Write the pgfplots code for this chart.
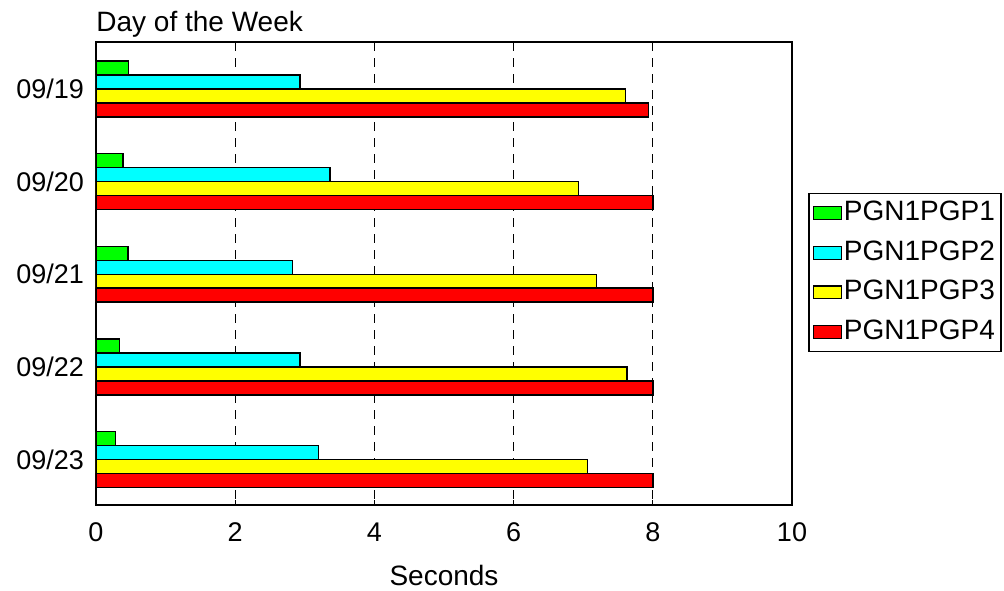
\documentclass[border=0pt]{standalone}
\usepackage{fontspec}
\setmainfont{Liberation Sans}
\usepackage{pgfplots}
\pgfplotsset{compat=1.18}
\newcommand{\cf}{\fontsize{14}{16.8}\selectfont}
\newcommand{\tf}{\fontsize{13.5}{16.2}\selectfont}
\begin{document}
\begin{tikzpicture}[x=1pt,y=1pt]
\useasboundingbox (-48,-42.5) rectangle (454,252.5);
\begin{axis}[
  at={(0,0)}, anchor=south west,
  scale only axis, width=348pt, height=231.5pt,
  xbar, bar width=0.151,
  y dir=reverse,
  xmin=0, xmax=10, ymin=-0.508, ymax=4.492,
  xtick={0,2,4,6,8,10},
  ytick={0,1,2,3,4},
  yticklabels={09/19,09/20,09/21,09/22,09/23},
  /pgf/number format/assume math mode=true,
  xtick pos=bottom, tick align=inside, major tick length=2.5pt,
  ytick style={draw=none},
  tick style={black, line width=0.5pt},
  tick label style={font=\tf},
  xticklabel style={yshift=-5.5pt},
  yticklabel style={xshift=-2.5pt},
  xmajorgrids,
  major grid style={black, line width=0.5pt, dash pattern=on 4.5pt off 3.5pt},
  axis line style={line width=0.75pt},
  xlabel={Seconds},
  xlabel style={font=\cf, at={(rel axis cs:0.5,0)}, anchor=base, yshift=-40pt},
  title={Day of the Week},
  title style={font=\cf, at={(rel axis cs:0,1)}, anchor=base west, inner sep=0pt, yshift=-0.5pt},
  legend style={at={(rel axis cs:1.023,0.674)}, anchor=north west, draw=black, line width=0.75pt,
    font=\cf, inner xsep=2pt, inner ysep=2pt, row sep=4.3pt,
    nodes={inner sep=1pt, text height=10.5pt, text depth=3pt}},
  legend cell align=left,
  legend image code/.code={\draw[#1, line width=0.6pt] (-1pt,-3.2pt) rectangle (13pt,3.2pt);},
  every axis plot/.append style={draw=black, line width=0.75pt},
]
\addplot[fill={rgb,255:red,0;green,255;blue,0}, bar shift=-0.2265] coordinates {(0.47,0) (0.39,1) (0.46,2) (0.34,3) (0.28,4)};
\addplot[fill={rgb,255:red,0;green,255;blue,255}, bar shift=-0.0755] coordinates {(2.93,0) (3.36,1) (2.82,2) (2.93,3) (3.20,4)};
\addplot[fill={rgb,255:red,255;green,255;blue,0}, bar shift=0.0755] coordinates {(7.61,0) (6.93,1) (7.19,2) (7.63,3) (7.06,4)};
\addplot[fill={rgb,255:red,255;green,0;blue,0}, bar shift=0.2265] coordinates {(7.94,0) (8.0,1) (8.0,2) (8.0,3) (8.0,4)};
\legend{PGN1PGP1,PGN1PGP2,PGN1PGP3,PGN1PGP4}
\end{axis}
\end{tikzpicture}
\end{document}
